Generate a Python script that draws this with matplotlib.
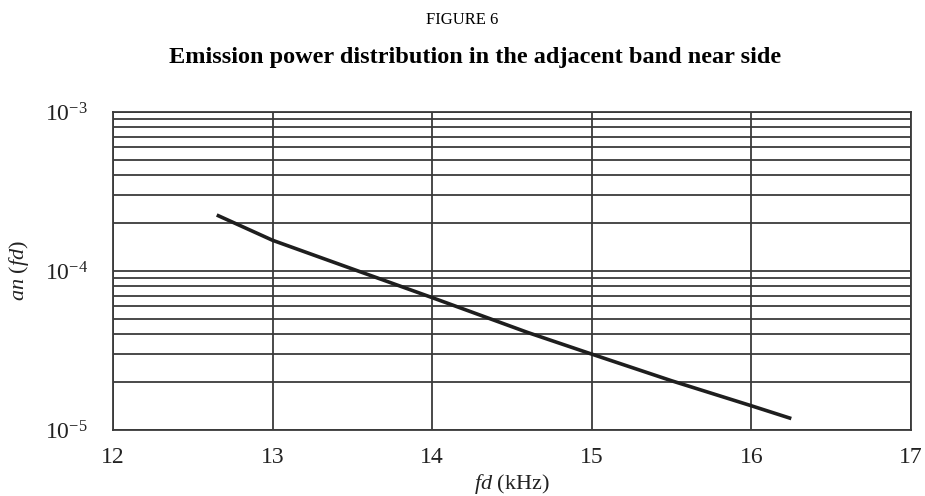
import numpy as np
import matplotlib
matplotlib.use('Agg')
import matplotlib.pyplot as plt
from matplotlib.ticker import LogLocator, FixedLocator

plt.rcParams['font.family'] = 'Liberation Serif'
plt.rcParams['mathtext.fontset'] = 'custom'
plt.rcParams['mathtext.rm'] = 'Liberation Serif'
plt.rcParams['mathtext.it'] = 'Liberation Serif:italic'

# curve
fd_khz = [12.65, 13.0, 14.0, 14.6, 15.0, 15.5, 16.0, 16.25]
an_fd = [2.25e-4, 1.56e-4, 6.8e-5, 4.1e-5, 3.0e-5, 2.04e-5, 1.42e-5, 1.18e-5]

x_ticks = [12, 13, 14, 15, 16, 17]
y_ticks = [1e-5, 1e-4, 1e-3]
y_labels = [r'$10^{-5}$', r'$10^{-4}$', r'$10^{-3}$']

grid_col = '#3a3a3a'

fig = plt.figure(figsize=(9.25, 4.96), dpi=100)
ax = fig.add_axes([113/925, 1 - 430/496, 798/925, 318/496])

ax.set_yscale('log')
ax.set_xlim(12, 17)
ax.set_ylim(1e-5, 1e-3)

ax.plot(fd_khz, an_fd, color='#1e1e1e', lw=2.6, solid_capstyle='butt', zorder=3)

ax.xaxis.set_major_locator(FixedLocator(x_ticks))
ax.yaxis.set_major_locator(FixedLocator(y_ticks))
ax.set_yticklabels(y_labels)
ax.yaxis.set_minor_locator(LogLocator(base=10, subs=np.arange(2, 10)))
ax.yaxis.set_minor_formatter(plt.NullFormatter())

ax.grid(True, which='major', axis='x', color=grid_col, lw=1.3)
ax.grid(True, which='both', axis='y', color=grid_col, lw=1.3)
for s in ax.spines.values():
    s.set_color(grid_col)
    s.set_linewidth(1.3)

ax.tick_params(which='both', length=0, labelsize=17, colors='#222222')
ax.tick_params(axis='x', pad=12)
ax.tick_params(axis='y', pad=18)

ax.set_xlabel(r'$fd$' + ' (kHz)', fontsize=16, labelpad=3, color='#222222')
ax.set_ylabel(r'$an\ (fd)$', fontsize=16, labelpad=10, color='#222222')

fig.text(0.5, 1 - 20/496, 'FIGURE 6', ha='center', va='center', fontsize=12)
fig.text(475/925, 1 - 58/496, 'Emission power distribution in the adjacent band near side',
         ha='center', va='center', fontsize=17.5, fontweight='bold')

fig.savefig('out.png', dpi=100)
